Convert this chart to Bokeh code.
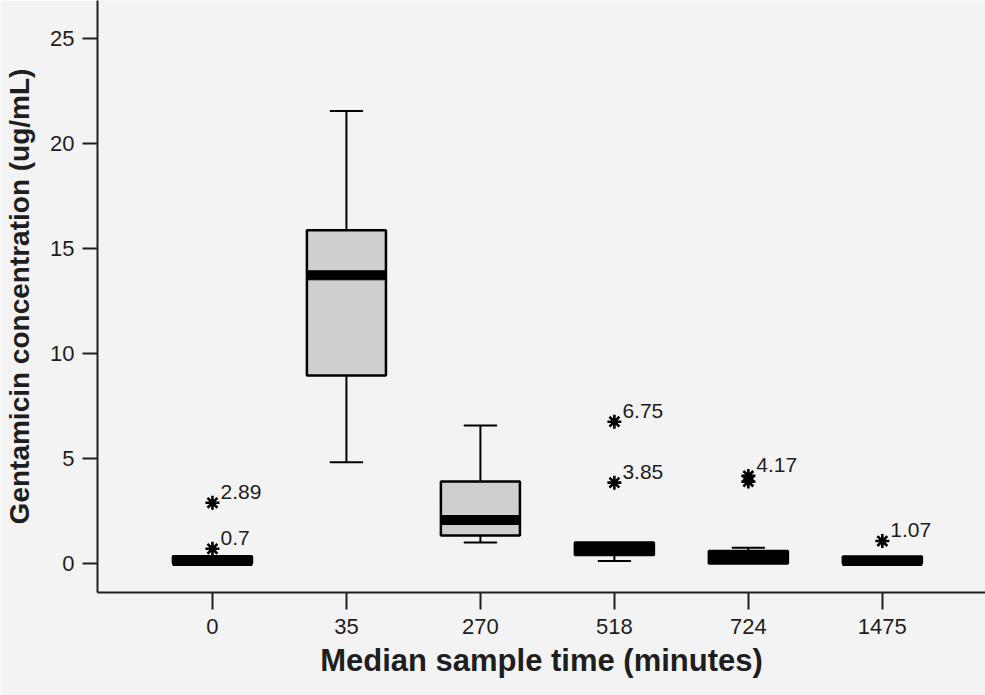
from bokeh.plotting import figure
from bokeh.models import FixedTicker, ColumnDataSource, Range1d
from bokeh.core.properties import value
from bokeh.embed import file_html
from bokeh.resources import INLINE

# ---- data ----
categories = ["0", "35", "270", "518", "724", "1475"]
whisker_low = [0.0, 4.82, 1.0, 0.12, 0.0, 0.0]
q1 = [0.0, 8.95, 1.33, 0.4, 0.0, 0.0]
median = [0.12, 13.72, 2.07, 0.7, 0.3, 0.12]
q3 = [0.35, 15.86, 3.9, 1.0, 0.6, 0.33]
whisker_high = [0.35, 21.54, 6.57, 1.0, 0.75, 0.33]

outlier_group = ["0", "0", "518", "518", "724", "724", "1475"]
outlier_value = [0.7, 2.89, 3.85, 6.75, 4.17, 3.9, 1.07]
outlier_label = ["0.7", "2.89", "3.85", "6.75", "4.17", "", "1.07"]

y_ticks = [0, 5, 10, 15, 20, 25]

FONT = "Liberation Sans"
TXT = "#1e1e1e"
BG = "#f3f3f3"
BOX_GREY = "#cfcfcf"

xpos = list(range(len(categories)))
# very short boxes are drawn solid black (the median band fills them)
box_fill = ["black" if (b - a) < 1.0 else BOX_GREY for a, b in zip(q1, q3)]
box_src = ColumnDataSource(dict(x=xpos, wl=whisker_low, q1=q1, med=median,
                                q3=q3, wh=whisker_high, fill=box_fill))

p = figure(width=985, height=695, output_backend="svg", toolbar_location=None,
           x_range=Range1d(-0.858, 5.77), y_range=Range1d(-1.38, 26.8),
           min_border_left=97, min_border_right=0, min_border_top=0,
           min_border_bottom=103)
p.background_fill_color = BG
p.border_fill_color = BG
p.outline_line_color = None
p.xgrid.visible = False
p.ygrid.visible = False

# whiskers
p.segment(x0="x", y0="q3", x1="x", y1="wh", source=box_src, line_color="black", line_width=2)
p.segment(x0="x", y0="q1", x1="x", y1="wl", source=box_src, line_color="black", line_width=2)
cap_hi = [i for i in xpos if whisker_high[i] != q3[i]]
cap_lo = [i for i in xpos if whisker_low[i] != q1[i]]
p.rect(x=cap_hi, y=[whisker_high[i] for i in cap_hi], width=0.24, height=0.001,
       fill_color=None, line_color="black", line_width=2)
p.rect(x=cap_lo, y=[whisker_low[i] for i in cap_lo], width=0.24, height=0.001,
       fill_color=None, line_color="black", line_width=2)

# boxes
p.vbar(x="x", width=0.59, bottom="q1", top="q3", source=box_src,
       fill_color="fill", line_color="black", line_width=2.5)
# median bands
p.rect(x="x", y="med", width=0.59, height=9, height_units="screen", source=box_src,
       fill_color="black", line_color="black", line_width=1)

# outliers
ox = [categories.index(g) for g in outlier_group]
out_src = ColumnDataSource(dict(x=ox, y=outlier_value, t=outlier_label))
p.scatter(x="x", y="y", source=out_src, marker="asterisk", size=14,
          line_color="black", line_width=2.6)
p.text(x="x", y="y", text="t", source=out_src, x_offset=8, y_offset=-11,
       text_font=value(FONT), text_font_size="21px", text_color=TXT,
       text_baseline="alphabetic", text_align="left")

# axes
xa = p.xaxis[0]
xa.ticker = FixedTicker(ticks=xpos)
xa.major_label_overrides = {i: c for i, c in enumerate(categories)}
xa.axis_label = "Median sample time (minutes)"
ya = p.yaxis[0]
ya.ticker = FixedTicker(ticks=y_ticks)
ya.axis_label = "Gentamicin concentration (ug/mL)"

for ax in (xa, ya):
    ax.axis_line_color = "#202020"
    ax.axis_line_width = 2
    ax.major_tick_line_color = "#202020"
    ax.major_tick_line_width = 2
    ax.major_tick_in = 0
    ax.minor_tick_line_color = None
    ax.major_label_text_font = FONT
    ax.major_label_text_font_size = "22px"
    ax.major_label_text_color = TXT
    ax.axis_label_text_font = FONT
    ax.axis_label_text_font_style = "bold"
    ax.axis_label_text_color = TXT

xa.major_tick_out = 17
xa.major_label_standoff = 9
xa.axis_label_text_font_size = "31px"
xa.axis_label_standoff = 6
ya.major_tick_out = 15
ya.major_label_standoff = 8
ya.axis_label_text_font_size = "28px"
ya.axis_label_standoff = 12

open("out.html", "w").write(file_html(p, INLINE))
